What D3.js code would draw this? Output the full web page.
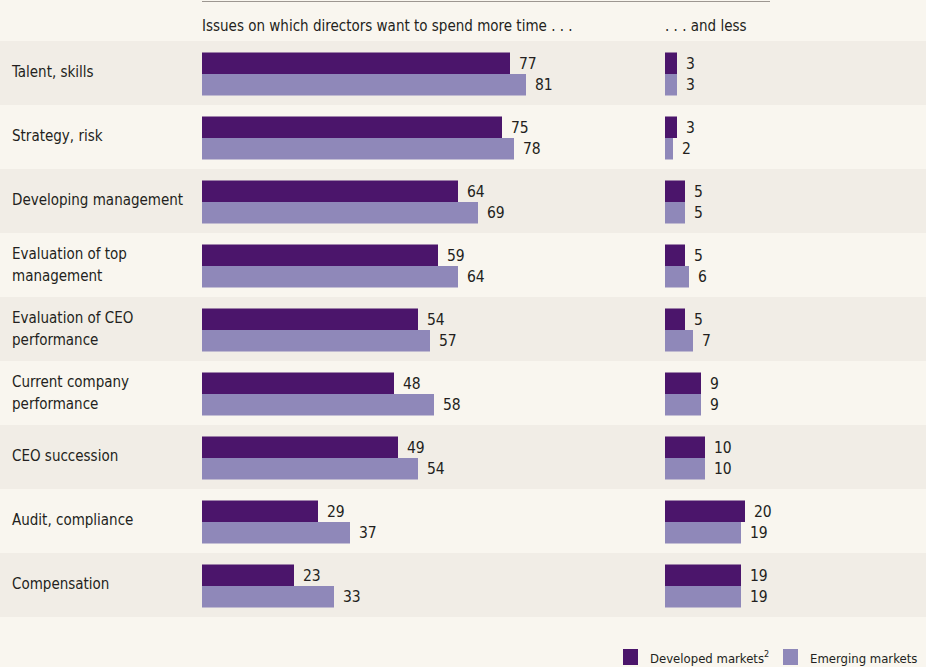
<!DOCTYPE html>
<html>
<head>
<meta charset="utf-8">
<script src="https://cdn.jsdelivr.net/npm/d3@7"></script>
<style>
  body { margin: 0; background: #f9f6ef; }
  svg text { font-family: "Liberation Sans Narrow", "DejaVu Sans Condensed", sans-serif; fill: #231f20; }
</style>
</head>
<body>
<div id="chart"></div>
<script>
// Categories (line breaks as in the original)
const categories = [
  ["Talent, skills"],
  ["Strategy, risk"],
  ["Developing management"],
  ["Evaluation of top", "management"],
  ["Evaluation of CEO", "performance"],
  ["Current company", "performance"],
  ["CEO succession"],
  ["Audit, compliance"],
  ["Compensation"]
];
const series = ["Developed markets", "Emerging markets"];

// % of directors wanting more time
const moreDeveloped = [77, 75, 64, 59, 54, 48, 49, 29, 23];
const moreEmerging  = [81, 78, 69, 64, 57, 58, 54, 37, 33];
// % wanting less time
const lessDeveloped = [3, 3, 5, 5, 5, 9, 10, 20, 19];
const lessEmerging  = [3, 2, 5, 6, 7, 9, 10, 19, 19];

const colors = ["#4b156b", "#8f88b9"];

const width = 926, height = 667;
const svg = d3.select("#chart").append("svg")
  .attr("width", width)
  .attr("height", height);

svg.append("rect").attr("width", width).attr("height", height).attr("fill", "#f9f6ef");

const names = categories.map(d => d.join(" "));
const y = d3.scaleBand().domain(names).range([41, 617]);
const ySub = d3.scaleBand().domain(series).range([11.5, 54.5]);

// Same scale (4 px per point) for both panels
const xMore = d3.scaleLinear().domain([0, 100]).range([202, 602]);
const xLess = d3.scaleLinear().domain([0, 100]).range([665, 1065]);

// Alternating row shading
svg.selectAll(".band")
  .data(names.filter((d, i) => i % 2 === 0))
  .join("rect")
    .attr("x", 0)
    .attr("y", d => y(d))
    .attr("width", width)
    .attr("height", y.bandwidth())
    .attr("fill", "#f1ede6");

// Top rule
svg.append("line")
  .attr("x1", 202).attr("x2", 770)
  .attr("y1", 1.5).attr("y2", 1.5)
  .attr("stroke", "#9d9791").attr("stroke-width", 1.2);

// Headers
svg.append("text").attr("x", 202).attr("y", 31)
  .style("font-size", "15px")
  .text("Issues on which directors want to spend more time . . .");
svg.append("text").attr("x", 665).attr("y", 31)
  .style("font-size", "15px")
  .text(". . . and less");

// Category labels
const labels = svg.selectAll(".cat")
  .data(categories)
  .join("text")
    .attr("x", 12)
    .attr("y", (d, i) => y(names[i]) + y.bandwidth() / 2 - 1)
    .style("font-size", "15px");
labels.selectAll("tspan")
  .data(d => d.map((t, j) => ({ t, j, n: d.length })))
  .join("tspan")
    .attr("x", 12)
    .attr("dy", d => d.j === 0 ? (d.n === 1 ? "0.35em" : "-0.35em") : "22")
    .text(d => d.t);

function drawPanel(x, dev, emg) {
  const rows = names.map((c, i) => [
    { c, s: series[0], v: dev[i] },
    { c, s: series[1], v: emg[i] }
  ]).flat();

  svg.append("g").selectAll("rect")
    .data(rows)
    .join("rect")
      .attr("x", x(0))
      .attr("y", d => y(d.c) + ySub(d.s))
      .attr("width", d => x(d.v) - x(0))
      .attr("height", ySub.bandwidth())
      .attr("fill", d => d.s === series[0] ? colors[0] : colors[1]);

  svg.append("g").selectAll("text")
    .data(rows)
    .join("text")
      .attr("x", d => x(d.v) + 9)
      .attr("y", d => y(d.c) + ySub(d.s) + ySub.bandwidth() / 2)
      .attr("dy", "0.36em")
      .style("font-size", "15.5px")
      .text(d => d.v);
}

drawPanel(xMore, moreDeveloped, moreEmerging);
drawPanel(xLess, lessDeveloped, lessEmerging);

// Legend
const legend = [
  { x: 623, label: "Developed markets", sup: "2", c: colors[0] },
  { x: 783, label: "Emerging markets", sup: "", c: colors[1] }
];
const lg = svg.append("g").selectAll("g")
  .data(legend)
  .join("g")
    .attr("transform", d => `translate(${d.x},649)`);
lg.append("rect")
  .attr("width", 15).attr("height", 16)
  .attr("fill", d => d.c);
const lt = lg.append("text")
  .attr("x", 27).attr("y", 14)
  .style("font-size", "13px");
lt.append("tspan").text(d => d.label);
lt.append("tspan")
  .attr("dy", -6)
  .style("font-size", "9px")
  .text(d => d.sup);
</script>
</body>
</html>
